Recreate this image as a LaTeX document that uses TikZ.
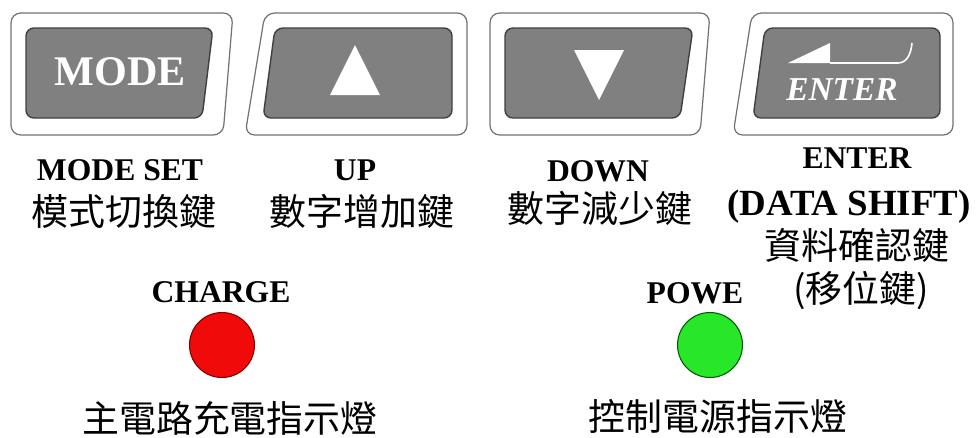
\documentclass[tikz,border=0pt]{standalone}
\usepackage{fontspec}
\setmainfont{Liberation Serif}
\newfontfamily\cjkfont{Noto Sans CJK TC}
\usepackage{tikz}
\usetikzlibrary{positioning}
\definecolor{ledred}{RGB}{240,10,10}
\definecolor{ledgreen}{RGB}{40,230,40}

\begin{document}
\begin{tikzpicture}[%
    x=0.02cm,
    y=-0.02cm,
    frame/.style={%
      draw=black!55,
      line width=0.7pt,
      fill=white,
      rounded corners=5.5pt
    },
    keycap/.style={%
      draw=black!75,
      line width=0.8pt,
      fill=black!50,
      rounded corners=4.5pt
    },
    keytext/.style={text=white, anchor=base, inner sep=0pt},
    keyname/.style={font=\bfseries\fontsize{18}{18}\selectfont, anchor=base, inner sep=0pt},
    zh/.style={font=\cjkfont\fontsize{21}{21}\selectfont, inner sep=0pt},
    lamp/.style={%
      circle,
      minimum size=1.3cm,
      inner sep=0pt,
      line width=0.6pt
    }
  ]
    \useasboundingbox (0,0) rectangle (978,437);

    % keys
    \path[frame]  (11,13) -- (233,13) -- (223,135) -- (11,135) -- cycle;
    \path[keycap] (26,28) -- (213,28) -- (202,118) -- (26,118) -- cycle;
    \node[keytext, font=\bfseries\fontsize{24}{24}\selectfont] (modekey) at (120,85) {MODE};

    \path[frame]  (265,13) -- (467,13) -- (467,135) -- (245,135) -- cycle;
    \path[keycap] (275,28) -- (452,28) -- (452,118) -- (263,118) -- cycle;
    \fill[white] (355,45) -- (380,95) -- (330,95) -- cycle;

    \path[frame]  (490,13) -- (710,13) -- (700,135) -- (490,135) -- cycle;
    \path[keycap] (505,28) -- (693,28) -- (680,118) -- (505,118) -- cycle;
    \fill[white] (574,50) -- (624,50) -- (599,100) -- cycle;

    \path[frame]  (752,13) -- (953,13) -- (953,135) -- (733,135) -- cycle;
    \path[keycap] (765,28) -- (940,28) -- (940,118) -- (753,118) -- cycle;
    \fill[white] (788,63) -- (830,43) -- (830,63) -- cycle;
    \draw[white, line width=0.9pt] (830,63) -- (898,63) to[out=0, in=-95] (912,43);
    \node[keytext, font=\bfseries\itshape\fontsize{19}{19}\selectfont] (enterkey) at (842,100) {ENTER};

    % key names
    \node[keyname] (modename)  at (120,180) {MODE SET};
    \node[zh]      (modezh)    at (124,211) {模式切換鍵};
    \node[keyname] (upname)    at (355,180) {UP};
    \node[zh]      (upzh)      at (362,211) {數字增加鍵};
    \node[keyname] (downname)  at (598,181) {DOWN};
    \node[zh]      (downzh)    at (600,208) {數字減少鍵};
    \node[keyname] (entername) at (857,168) {ENTER};
    \node[keyname, font=\bfseries\fontsize{21}{21}\selectfont] (shiftname) at (849,215) {(DATA SHIFT)};
    \node[zh]      (enterzh)   at (857,245) {資料確認鍵};
    \node[zh]      (shiftzh)   at (861,290) {(移位鍵)};

    % lamps
    \node[keyname] (chargename) at (221,302) {CHARGE};
    \node[lamp, fill=ledred, draw=red!50!black] (charge) at (222,345) {};
    \node[zh] (chargezh) at (230,418) {主電路充電指示燈};

    \node[keyname] (powername) at (695,303) {POWE};
    \node[lamp, fill=ledgreen, draw=green!35!black] (power) at (710,345) {};
    \node[zh] (powerzh) at (718,416) {控制電源指示燈};
\end{tikzpicture}
\end{document}
